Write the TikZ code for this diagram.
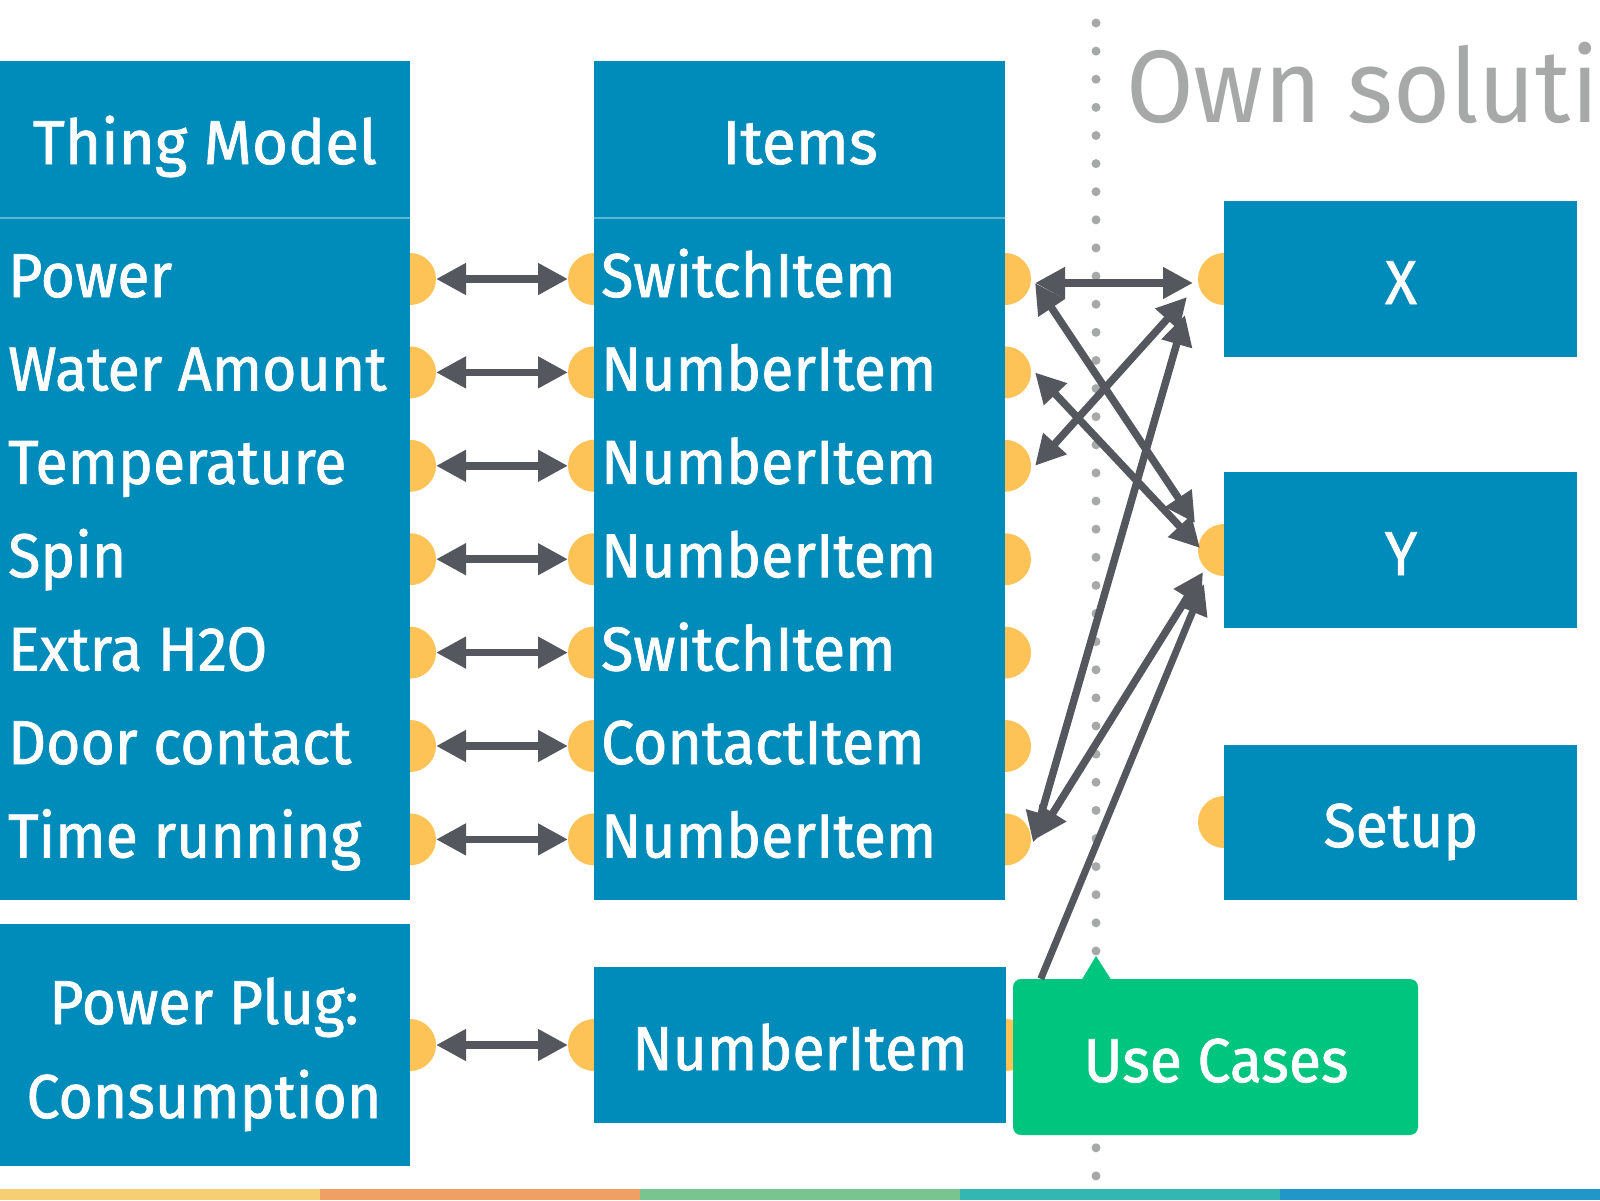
\documentclass[tikz,border=0pt]{standalone}
\usepackage{fontspec}
\setmainfont{Fira Sans}[FakeStretch=0.95,FakeBold=1.2]
\newfontfamily\ownfont{Fira Sans}[FakeStretch=0.95]
\newfontfamily\headfont{Fira Sans}[FakeBold=1.2]
\usetikzlibrary{arrows.meta,calc}
\definecolor{boxblue}{HTML}{008CBB}
\definecolor{porty}{HTML}{FEC357}
\definecolor{arrowg}{HTML}{54585E}
\definecolor{dotg}{HTML}{A7A9A8}
\definecolor{ucgreen}{HTML}{00C57E}
\definecolor{sepblue}{HTML}{5DB5D5}
\definecolor{stA}{HTML}{F7CE72}
\definecolor{stB}{HTML}{F0A062}
\definecolor{stC}{HTML}{79C58F}
\definecolor{stD}{HTML}{33B7B0}
\definecolor{stE}{HTML}{2196C8}
\begin{document}
\begin{tikzpicture}[x=1pt,y=-1pt,
  bbox/.style={fill=boxblue,draw=none,inner sep=0pt,outer sep=0pt},
  port/.style={circle,fill=porty,draw=none,minimum size=52pt,inner sep=0pt,outer sep=0pt},
  lbl/.style={text=white,inner sep=0pt,font=\fontsize{62}{94}\selectfont},
  headlbl/.style={text=white,inner sep=0pt,font=\headfont\fontsize{62}{94}\selectfont},
  dblarrow/.style={draw=arrowg,line width=7.5pt,{Triangle[length=30pt,width=30pt]}-{Triangle[length=30pt,width=30pt]}},
  onearrow/.style={draw=arrowg,line width=7pt,-{Triangle[length=30pt,width=30pt]}},
  dotmark/.style={circle,fill=dotg,draw=none,minimum size=9pt,inner sep=0pt}
]
\useasboundingbox (0,0) rectangle (1600,1200);
\fill[white] (0,0) rectangle (1600,1200);

% dotted divider
\foreach \i in {0,...,41}{
  \node[dotmark] (dot\i) at (1096,{23+28.12*\i}) {};
}

% ports
\foreach \i in {0,...,6}{
  \node[port] (tmR\i) at (410,{279+93.4*\i}) {};
  \node[port] (itL\i) at (594,{279+93.4*\i}) {};
  \node[port] (itR\i) at (1005,{279+93.4*\i}) {};
}
\node[port] (xP) at (1224,279) {};
\node[port] (yP) at (1224,550) {};
\node[port] (sP) at (1224,822) {};
\node[port] (ppR) at (410,1045) {};
\node[port] (niL) at (594,1045) {};
\node[port] (niR) at (1006,1045) {};

% boxes
\node[bbox,minimum width=410pt,minimum height=839pt] (tm) at (205,480.5) {};
\node[bbox,minimum width=411pt,minimum height=839pt] (it) at (799.5,480.5) {};
\draw[sepblue,line width=1.5pt] (tm.west |- 0,218) -- (tm.east |- 0,218);
\draw[sepblue,line width=1.5pt] (it.west |- 0,218) -- (it.east |- 0,218);
\node[bbox,minimum width=353pt,minimum height=156pt] (xb) at (1400.5,279) {};
\node[bbox,minimum width=353pt,minimum height=156pt] (yb) at (1400.5,550) {};
\node[bbox,minimum width=353pt,minimum height=155pt] (sb) at (1400.5,822.5) {};
\node[bbox,minimum width=410pt,minimum height=242pt] (pp) at (205,1045) {};
\node[bbox,minimum width=412pt,minimum height=156pt] (ni) at (800,1045) {};

% headings
\node[headlbl,anchor=base] (tmH) at (205,164) {Thing Model};
\node[headlbl,anchor=base] (itH) at (800,164) {Items};
\node[text=dotg,inner sep=0pt,anchor=base west,font=\ownfont\fontsize{103}{120}\selectfont] (own) at (1126,122) {Own soluti};

% row labels
\foreach \t [count=\i from 0] in {Power,Water Amount,Temperature,Spin,Extra H2O,Door contact,Time running}{
  \node[lbl,anchor=base west] (tmT\i) at (8,{297+93.4*\i}) {\t};
}
\foreach \t [count=\i from 0] in {SwitchItem,NumberItem,NumberItem,NumberItem,SwitchItem,ContactItem,NumberItem}{
  \node[lbl,anchor=base west] (itT\i) at (601,{297+93.4*\i}) {\t};
}
\node[lbl,anchor=base] (xT) at (1401,304) {X};
\node[lbl,anchor=base] (yT) at (1401,575) {Y};
\node[lbl,anchor=base] (sT) at (1401,847) {Setup};
\node[lbl,anchor=base] (ppT1) at (204,1024) {Power Plug:};
\node[lbl,anchor=base] (ppT2) at (204,1118) {Consumption};
\node[lbl,anchor=base] (niT) at (800,1070) {NumberItem};

% straight arrows
\foreach \i in {0,...,6}{
  \draw[dblarrow] (tmR\i) -- (itL\i);
}
\draw[dblarrow] (ppR) -- (niL);

% use cases callout
\node[fill=ucgreen,draw=none,rounded corners=8pt,minimum width=405pt,minimum height=156pt,inner sep=0pt] (uc) at (1215.5,1057) {};
\fill[ucgreen] (1081,981) -- (1096,956) -- (1112,981) -- cycle;
\node[lbl,anchor=base] (ucT) at (1216,1082) {Use Cases};
\coordinate (ucStart) at ($(uc.north west)+(28,0)$);

% crossing arrows
\draw[dblarrow] ($(itR0)+(30,4)$) -- ($(xP)+(-31,4)$);
\draw[dblarrow] ($(itR0)+(30,4)$) -- ($(yP)+(-29,-27)$);
\draw[dblarrow] ($(itR1)+(30,0)$) -- ($(yP)+(-24,-2)$);
\draw[dblarrow] ($(itR2)+(30,0)$) -- ($(xP)+(-37,18)$);
\draw[dblarrow] ($(itR6)+(28,3)$) -- ($(xP)+(-39,36)$);
\draw[dblarrow] ($(itR6)+(32,-1)$) -- ($(yP)+(-21,22)$);
\draw[onearrow] (ucStart) -- ($(yP)+(-20,34)$);

% bottom stripe
\fill[stA] (0,1189) rectangle (320,1200);
\fill[stB] (320,1189) rectangle (640,1200);
\fill[stC] (640,1189) rectangle (960,1200);
\fill[stD] (960,1189) rectangle (1280,1200);
\fill[stE] (1280,1189) rectangle (1600,1200);
\end{tikzpicture}
\end{document}
